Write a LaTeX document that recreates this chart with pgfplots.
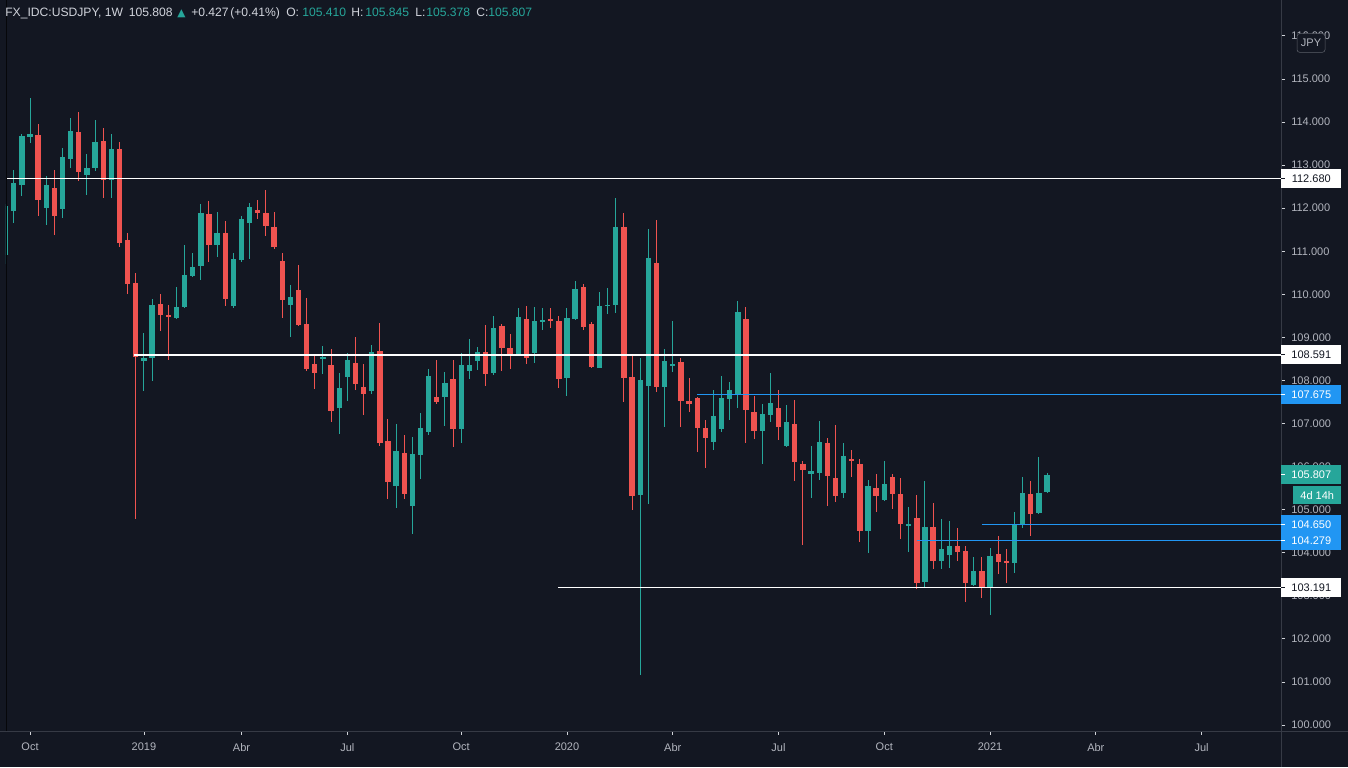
\documentclass[border=0pt]{standalone}
\usepackage{fontspec}
\setmainfont{Liberation Sans}
\newfontfamily\dejavu{DejaVu Sans}
\usepackage{pgfplots}
\usepackage{pgfplotstable}
\pgfplotsset{compat=1.18}
\definecolor{bg}{HTML}{131722}
\definecolor{upc}{HTML}{26A69A}
\definecolor{dnc}{HTML}{EF5350}
\definecolor{lbl}{HTML}{B2B5BE}
\definecolor{hdr}{HTML}{D1D4DC}
\definecolor{axisc}{HTML}{363A45}
\definecolor{tvblue}{HTML}{2196F3}
\newcommand\axfont{\fontsize{8.25}{10}\selectfont}
\newcommand\hfont{\fontsize{9.1}{11}\selectfont}

\pgfplotstableread{
w o h l c
-3 110.91 112.10 110.70 112.05
-2 111.94 112.89 111.66 112.58
-1 112.54 113.72 112.28 113.68
0 113.66 114.56 113.52 113.72
1 113.70 113.95 111.83 112.20
2 112.01 112.75 111.62 112.54
3 112.47 112.89 111.38 111.83
4 111.99 113.40 111.76 113.19
5 113.15 114.09 112.94 113.79
6 113.77 114.23 112.64 112.85
7 112.78 113.26 112.31 112.93
8 112.94 114.05 112.87 113.54
9 113.56 113.86 112.24 112.66
10 112.66 113.72 112.24 113.37
11 113.37 113.54 111.10 111.20
12 111.26 111.42 110.01 110.25
13 110.26 110.49 104.78 108.55
14 108.45 109.10 107.76 108.52
15 108.52 109.89 107.99 109.75
16 109.78 110.01 109.15 109.52
17 109.52 109.75 108.47 109.47
18 109.45 110.17 109.43 109.71
19 109.71 111.14 109.68 110.45
20 110.42 110.96 110.40 110.63
21 110.66 112.10 110.33 111.89
22 111.86 112.17 110.75 111.14
23 111.14 111.91 110.87 111.42
24 111.42 111.70 109.73 109.89
25 109.73 110.96 109.68 110.82
26 110.80 111.82 110.75 111.75
27 111.66 112.12 110.82 112.03
28 111.96 112.19 111.75 111.89
29 111.89 112.42 111.35 111.59
30 111.56 111.91 111.05 111.10
31 110.77 110.96 109.45 109.87
32 109.75 110.22 109.01 109.94
33 110.10 110.68 109.26 109.29
34 109.31 109.91 108.22 108.27
35 108.38 108.61 107.80 108.17
36 108.50 108.80 108.15 108.54
37 108.36 108.73 107.04 107.29
38 107.36 108.17 106.76 107.82
39 108.08 108.64 107.52 108.47
40 108.41 109.01 107.78 107.92
41 107.85 108.38 107.20 107.69
42 107.75 108.82 107.69 108.66
43 108.68 109.33 106.48 106.55
44 106.59 107.10 105.25 105.64
45 105.55 106.99 105.04 106.36
46 106.32 106.73 105.25 105.36
47 105.08 106.69 104.43 106.29
48 106.27 107.24 105.71 106.90
49 106.80 108.27 106.73 108.10
50 107.62 108.47 107.45 107.50
51 107.62 108.20 106.94 107.94
52 108.03 108.47 106.45 106.87
53 106.87 108.64 106.55 108.36
54 108.22 108.96 108.03 108.36
55 108.45 108.78 108.24 108.66
56 108.66 109.29 107.87 108.15
57 108.17 109.50 108.12 109.22
58 109.26 109.31 108.22 108.75
59 108.75 109.08 108.27 108.59
60 108.59 109.68 108.57 109.47
61 109.43 109.73 108.38 108.52
62 108.64 109.71 108.41 109.38
63 109.36 109.68 109.17 109.40
64 109.43 109.68 109.22 109.38
65 109.38 109.50 107.82 108.03
66 108.06 109.68 107.64 109.45
67 109.43 110.31 109.40 110.12
68 110.17 110.24 109.17 109.24
69 109.31 109.35 108.28 108.31
70 108.29 110.05 108.29 109.73
71 109.73 110.15 109.54 109.75
72 109.75 112.24 109.57 111.56
73 111.56 111.89 107.50 108.06
74 108.08 108.59 104.99 105.32
75 105.34 108.52 101.16 108.01
76 107.87 111.52 105.13 110.84
77 110.73 111.73 107.73 107.85
78 107.85 108.73 106.92 108.45
79 108.34 109.38 108.20 108.38
80 108.43 108.52 106.92 107.52
81 107.52 108.06 107.27 107.45
82 107.59 107.62 106.34 106.90
83 106.90 107.08 105.97 106.66
84 106.57 107.78 106.39 107.17
85 106.87 108.10 106.80 107.59
86 107.57 107.96 107.08 107.78
87 107.66 109.84 107.36 109.59
88 109.43 109.71 106.55 107.31
89 107.27 107.64 106.64 106.83
90 106.83 107.45 106.06 107.22
91 107.20 108.17 107.04 107.48
92 107.36 107.78 106.62 106.92
93 106.48 107.43 106.45 107.04
94 106.99 107.55 105.67 106.11
95 106.06 106.13 104.18 105.92
96 105.83 106.48 105.27 105.90
97 105.85 107.06 105.69 106.57
98 106.55 106.66 105.08 105.78
99 105.73 106.97 105.18 105.32
100 105.39 106.55 105.27 106.25
101 106.18 106.39 105.76 106.13
102 106.06 106.18 104.25 104.50
103 104.50 105.69 103.99 105.55
104 105.50 105.83 104.95 105.32
105 105.22 106.13 105.20 105.60
106 105.76 105.83 105.02 105.36
107 105.36 105.73 104.32 104.67
108 104.62 105.06 104.02 104.67
109 104.81 105.34 103.16 103.30
110 103.32 105.67 103.18 104.60
111 104.60 105.15 103.62 103.81
112 103.81 104.78 103.62 104.09
113 103.95 104.74 103.65 104.16
114 104.16 104.57 103.81 104.02
115 104.04 104.16 102.86 103.30
116 103.25 103.90 103.23 103.58
117 103.58 103.90 102.95 103.18
118 103.20 104.11 102.55 103.92
119 103.97 104.39 103.51 103.78
120 103.81 104.09 103.30 103.76
121 103.76 104.95 103.53 104.67
122 104.64 105.76 104.57 105.39
123 105.36 105.67 104.39 104.90
124 104.92 106.22 104.90 105.39
125 105.41 105.845 105.378 105.807
}\candles

\pgfplotsset{
  wick/.style={draw=none, mark=none, forget plot,
    error bars/.cd, y dir=both, y explicit, error mark=none,
    error bar style={draw=#1, line width=0.75pt}, /pgfplots/.cd},
  body/.style={draw=none, mark=none, forget plot,
    error bars/.cd, y dir=both, y explicit, error mark=none,
    error bar style={draw=#1, line width=4pt}, /pgfplots/.cd},
}

\begin{document}
\begin{tikzpicture}[x=0.75pt,y=0.75pt]
\useasboundingbox (0,0) rectangle (1348,767);
\fill[bg] (0,0) rectangle (1348,767);
\begin{axis}[
  at={(4.5pt,27pt)}, anchor=south west,
  scale only axis, width=956.25pt, height=548.25pt,
  xmin=-2.95, xmax=153.76, ymin=99.861, ymax=116.833,
  axis line style={draw=none},
  xtick pos=bottom, ytick pos=right,
  xticklabel pos=bottom, yticklabel pos=right,
  tick align=outside, major tick length=3pt,
  tick style={draw=lbl!60, line width=0.6pt},
  minor tick num=0,
  xtick={0,14,26,39,53,66,79,92,105,118,131,144},
  xticklabels={Oct,2019,Abr,Jul,Oct,2020,Abr,Jul,Oct,2021,Abr,Jul},
  ytick={100,101,...,116},
  yticklabels={100.000,101.000,102.000,103.000,104.000,105.000,106.000,107.000,108.000,109.000,110.000,111.000,112.000,113.000,114.000,115.000,116.000},
  ticklabel style={font=\axfont, text=lbl},
  xticklabel style={anchor=north, inner sep=0pt, yshift=-6pt},
  yticklabel style={anchor=west, inner sep=0pt, xshift=4.5pt},
  clip mode=individual,
]
% up candles
\addplot[restrict expr to domain={\thisrow{c}-\thisrow{o}}{0:100}, wick=upc]
  table[x=w, y expr={(\thisrow{h}+\thisrow{l})/2}, y error expr={(\thisrow{h}-\thisrow{l})/2}] {\candles};
\addplot[restrict expr to domain={\thisrow{c}-\thisrow{o}}{0:100}, body=upc]
  table[x=w, y expr={(\thisrow{o}+\thisrow{c})/2}, y error expr={max(abs(\thisrow{c}-\thisrow{o})/2,0.012)}] {\candles};
% down candles
\addplot[restrict expr to domain={\thisrow{c}-\thisrow{o}}{-100:0}, wick=dnc]
  table[x=w, y expr={(\thisrow{h}+\thisrow{l})/2}, y error expr={(\thisrow{h}-\thisrow{l})/2}] {\candles};
\addplot[restrict expr to domain={\thisrow{c}-\thisrow{o}}{-100:0}, body=dnc]
  table[x=w, y expr={(\thisrow{o}+\thisrow{c})/2}, y error expr={max(abs(\thisrow{c}-\thisrow{o})/2,0.012)}] {\candles};
% horizontal levels
\addplot[white, line width=0.9pt] coordinates {(-2.95,112.680) (153.76,112.680)};
\addplot[white, line width=0.9pt] coordinates {(12.8,108.591) (153.76,108.591)};
\addplot[tvblue, line width=0.8pt] coordinates {(82.0,107.675) (153.76,107.675)};
\addplot[tvblue, line width=0.7pt] coordinates {(117.0,104.650) (153.76,104.650)};
\addplot[tvblue, line width=0.7pt] coordinates {(109.0,104.279) (153.76,104.279)};
\addplot[white, line width=0.9pt] coordinates {(64.9,103.191) (153.76,103.191)};
\coordinate (L1) at (axis cs:153.76,112.680);
\coordinate (L2) at (axis cs:153.76,108.591);
\coordinate (L3) at (axis cs:153.76,107.675);
\coordinate (L4) at (axis cs:153.76,105.807);
\coordinate (L5) at (axis cs:153.76,104.650);
\coordinate (L6) at (axis cs:153.76,104.279);
\coordinate (L7) at (axis cs:153.76,103.191);
\end{axis}
% frame lines
\draw[axisc, line width=0.75pt] (0,36) -- (1348,36);
\draw[axisc, line width=0.75pt] (1281,0) -- (1281,767);
\draw[black!70!bg, line width=0.75pt] (6,36) -- (6,767);
% price labels
\tikzset{plab/.style={anchor=west, inner sep=0pt, minimum width=45pt, minimum height=14.25pt, font=\axfont}}
\node[plab, fill=white, text=bg] at (L1) {112.680};
\node[plab, fill=white, text=bg] at (L2) {108.591};
\node[plab, fill=tvblue, text=white] at (L3) {107.675};
\node[plab, fill=upc, text=white] at (L4) {105.807};
\node[anchor=north west, inner sep=0pt, minimum width=36pt, minimum height=14pt, font=\axfont, fill=upc, text=white] at ([xshift=9pt,yshift=-8pt]L4) {4d 14h};
\node[plab, fill=tvblue, text=white] at (L5) {104.650};
\node[plab, fill=tvblue, text=white] at (L6) {104.279};
\node[plab, fill=white, text=bg] at (L7) {103.191};
\foreach \c/\k in {L3/white,L4/white,L5/white,L6/white,L1/bg,L2/bg,L7/bg}
  \draw[\k, line width=0.75pt] (\c) -- ++(3pt,0);
% JPY box
\node[draw=lbl!45!bg, fill=bg, rounded corners=2pt, inner sep=2pt, minimum width=21pt, minimum height=14pt, font=\axfont, text=lbl] at (1311,724) {JPY};
% header
\begin{scope}[every node/.style={anchor=base west, inner sep=0pt, font=\hfont, text=hdr}]
\node at (5,750) {FX\_IDC:USDJPY, 1W};
\node at (128.6,750) {105.808};
\node[text=upc, font=\dejavu\fontsize{8}{10}\selectfont] at (177,750) {▲};
\node at (191,750) {+0.427};
\node at (230,750) {(+0.41\%)};
\node at (286,750) {O:};
\node[text=upc] at (302,750) {105.410};
\node at (351,750) {H:};
\node[text=upc] at (365,750) {105.845};
\node at (415,750) {L:};
\node[text=upc] at (426,750) {105.378};
\node at (476,750) {C:};
\node[text=upc] at (488,750) {105.807};
\end{scope}
\end{tikzpicture}
\end{document}
